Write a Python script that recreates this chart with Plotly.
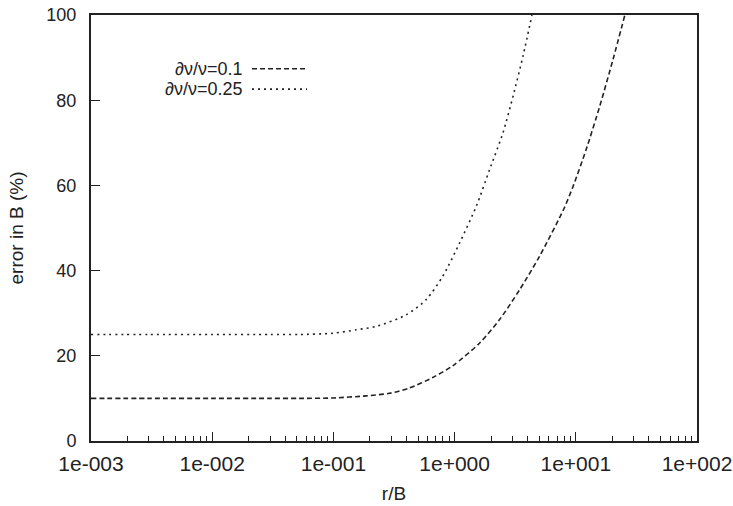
import plotly.graph_objects as go

# r/B values and error in B (%)
x_dv01 = [0.001, 0.003, 0.01, 0.03, 0.053, 0.1, 0.187, 0.29, 0.42, 0.66, 0.97, 1.61, 2.35,
          3.44, 5.03, 7.94, 9.5, 12.2, 15.8, 20.3, 25.4]
y_dv01 = [10.0, 10.0, 10.0, 10.0, 10.0, 10.1, 10.6, 11.2, 12.4, 14.9, 17.7, 23.0, 28.5,
          35.5, 43.4, 54.4, 59.8, 68.5, 78.7, 89.6, 100.0]

x_dv025 = [0.001, 0.003, 0.01, 0.03, 0.053, 0.099, 0.154, 0.225, 0.398, 0.583, 0.80, 1.10,
           1.51, 1.95, 2.51, 3.04, 3.67, 4.35]
y_dv025 = [25.0, 25.0, 25.0, 25.0, 25.0, 25.3, 26.1, 26.9, 29.6, 33.2, 38.7, 46.5,
           55.1, 63.8, 72.4, 81.0, 90.4, 100.0]

series_names = ["∂ν/ν=0.1", "∂ν/ν=0.25"]

x_tickvals = [1e-3, 1e-2, 1e-1, 1e0, 1e1, 1e2]
x_ticktext = ["1e-003", "1e-002", "1e-001", "1e+000", "1e+001", "1e+002"]
y_tickvals = [0, 20, 40, 60, 80, 100]

INK = "#222222"
FONT = "Liberation Sans, Arial, Helvetica, sans-serif"

fig = go.Figure()
fig.add_trace(go.Scatter(x=x_dv01, y=y_dv01, mode="lines", name=series_names[0],
                         line=dict(color=INK, width=1.6, dash="5px,3px", shape="spline", smoothing=0.7),
                         showlegend=False))
fig.add_trace(go.Scatter(x=x_dv025, y=y_dv025, mode="lines", name=series_names[1],
                         line=dict(color=INK, width=1.6, dash="2px,4px", shape="spline", smoothing=0.7),
                         showlegend=False))

# legend drawn gnuplot-style: right-aligned text, sample line on the right
leg_y = [0.874, 0.826]
leg_dash = ["5px,3px", "2px,4px"]
for name, yy, dsh in zip(series_names, leg_y, leg_dash):
    fig.add_annotation(x=0.2525, y=yy, xref="paper", yref="paper", text=name,
                       showarrow=False, xanchor="right", yanchor="middle",
                       font=dict(size=18, color=INK, family=FONT))
    fig.add_shape(type="line", xref="paper", yref="paper", x0=0.2657, x1=0.3564, y0=yy, y1=yy,
                  line=dict(color=INK, width=1.6, dash=dsh))

fig.update_xaxes(type="log", range=[-3, 2], tickmode="array", tickvals=x_tickvals,
                 ticktext=x_ticktext, ticks="inside", ticklen=9, tickwidth=1.3, tickcolor=INK,
                 minor=dict(ticks="inside", ticklen=5, tickwidth=1.2, tickcolor=INK, dtick="D1", showgrid=False),
                 showgrid=False, zeroline=False, showline=True, linewidth=2, linecolor=INK, mirror=True,
                 automargin=False, ticklabelstandoff=3, ticklabeloverflow="allow",
                 tickfont=dict(size=21, color=INK, family=FONT),
                 title=dict(text="r/B", font=dict(size=19, color=INK, family=FONT), standoff=12))
fig.update_yaxes(range=[0, 100], tickmode="array", tickvals=y_tickvals,
                 ticks="inside", ticklen=9, tickwidth=1.3, tickcolor=INK,
                 showgrid=False, zeroline=False, showline=True, linewidth=2, linecolor=INK, mirror=True,
                 automargin=False, ticklabelstandoff=9, ticklabeloverflow="allow",
                 tickfont=dict(size=18, color=INK, family=FONT),
                 title=dict(text="error in B (%)", font=dict(size=19, color=INK, family=FONT), standoff=18))

fig.update_layout(width=733, height=506, margin=dict(l=91, r=36, t=15, b=65),
                  paper_bgcolor="white", plot_bgcolor="white",
                  font=dict(family=FONT, color=INK))

# remove the browser's default 8px page margin so the figure sits at the window origin
fig.write_html("out.html", config={"displayModeBar": False},
               post_script="document.body.style.margin='0px';")
